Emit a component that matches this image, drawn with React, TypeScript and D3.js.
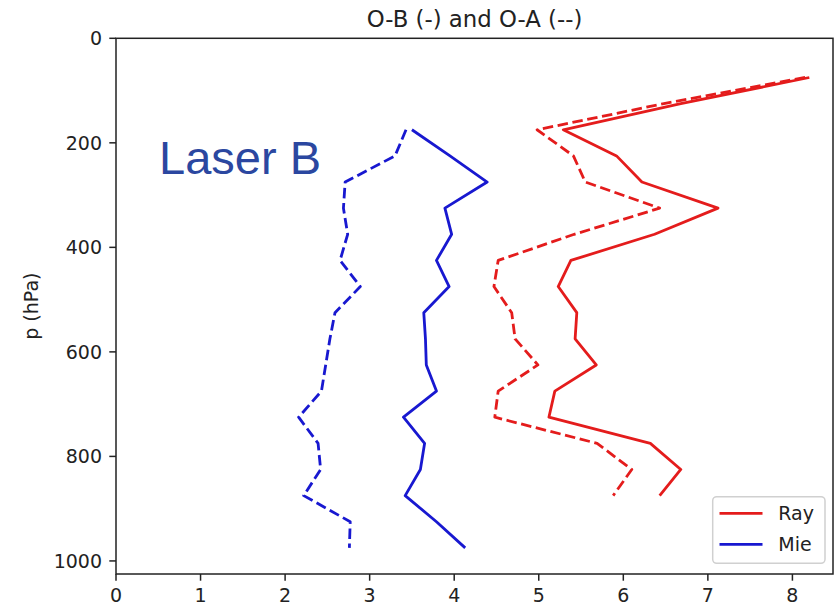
import React, { useEffect, useRef } from "react";
import * as d3 from "d3";

const mieLevels = [175, 225, 275, 325, 375, 425, 475, 525, 575, 625, 675, 725, 775, 825, 875, 925, 975];
const mieOB = [3.5, 3.95, 4.39, 3.89, 3.97, 3.79, 3.94, 3.64, 3.66, 3.67, 3.79, 3.4, 3.65, 3.6, 3.42, 3.79, 4.13];
const mieOA = [3.43, 3.3, 2.71, 2.69, 2.74, 2.65, 2.89, 2.59, 2.53, 2.48, 2.43, 2.16, 2.39, 2.42, 2.22, 2.77, 2.76];

const rayLevels = [75, 125, 175, 225, 275, 325, 375, 425, 475, 525, 575, 625, 675, 725, 775, 825, 875];
const rayOB = [8.2, 6.68, 5.29, 5.92, 6.22, 7.12, 6.37, 5.38, 5.23, 5.45, 5.43, 5.68, 5.19, 5.12, 6.32, 6.68, 6.43];
const rayOA = [8.15, 6.48, 4.98, 5.41, 5.55, 6.43, 5.42, 4.52, 4.47, 4.68, 4.72, 4.99, 4.52, 4.48, 5.69, 6.1, 5.88];

const xTicks = [0, 1, 2, 3, 4, 5, 6, 7, 8];
const yTicks = [0, 200, 400, 600, 800, 1000];

const titleText = "O-B (-) and O-A (--)";
const yLabel = "p (hPa)";
const annotation = "Laser B";
const legendItems = [
  { label: "Ray", color: "#e41c1c" },
  { label: "Mie", color: "#1818d0" },
];

const W = 834;
const H = 606;
const L = 116, R = 833, T = 38.3, B = 574;
const FONT = "DejaVu Sans, sans-serif";

export default function App() {
  const ref = useRef<SVGSVGElement>(null);

  useEffect(() => {
    document.body.style.margin = "0";
    const svg = d3.select(ref.current);
    svg.selectAll("*").remove();

    const x = d3.scaleLinear().domain([0, 8.48]).range([L, R]);
    const y = d3.scaleLinear().domain([0, 1025]).range([T, B]);

    svg.append("rect").attr("width", W).attr("height", H).attr("fill", "white");

    const series = [
      { lv: rayLevels, v: rayOB, color: legendItems[0].color, dash: null },
      { lv: rayLevels, v: rayOA, color: legendItems[0].color, dash: "10.5,4.6" },
      { lv: mieLevels, v: mieOB, color: legendItems[1].color, dash: null },
      { lv: mieLevels, v: mieOA, color: legendItems[1].color, dash: "10.5,4.6" },
    ];

    const line = d3
      .line<[number, number]>()
      .x((d) => x(d[0]))
      .y((d) => y(d[1]));

    series.forEach((s) => {
      const pts: [number, number][] = s.v.map((val, i) => [val, s.lv[i]]);
      const p = svg
        .append("path")
        .attr("d", line(pts))
        .attr("fill", "none")
        .attr("stroke", s.color)
        .attr("stroke-width", 2.8)
        .attr("stroke-linejoin", "round");
      if (s.dash) p.attr("stroke-dasharray", s.dash);
    });

    // spines
    const g = svg.append("g");
    g.append("rect")
      .attr("x", L)
      .attr("y", T)
      .attr("width", R - L)
      .attr("height", B - T)
      .attr("fill", "none")
      .attr("stroke", "#222")
      .attr("stroke-width", 1.5);

    // x ticks
    xTicks.forEach((t) => {
      g.append("line")
        .attr("x1", x(t)).attr("x2", x(t))
        .attr("y1", B).attr("y2", B + 6.7)
        .attr("stroke", "#222").attr("stroke-width", 1.5);
      g.append("text")
        .attr("x", x(t)).attr("y", B + 27.5)
        .attr("text-anchor", "middle")
        .attr("font-family", FONT).attr("font-size", 19)
        .attr("fill", "#222")
        .text(String(t));
    });

    // y ticks
    yTicks.forEach((t) => {
      g.append("line")
        .attr("x1", L - 6.7).attr("x2", L)
        .attr("y1", y(t)).attr("y2", y(t))
        .attr("stroke", "#222").attr("stroke-width", 1.5);
      g.append("text")
        .attr("x", L - 14).attr("y", y(t))
        .attr("dy", "0.36em")
        .attr("text-anchor", "end")
        .attr("font-family", FONT).attr("font-size", 19)
        .attr("fill", "#222")
        .text(String(t));
    });

    // y label
    g.append("text")
      .attr("transform", `translate(38,${(T + B) / 2}) rotate(-90)`)
      .attr("text-anchor", "middle")
      .attr("font-family", FONT).attr("font-size", 19)
      .attr("fill", "#222")
      .text(yLabel);

    // title
    g.append("text")
      .attr("x", (L + R) / 2).attr("y", 26.5)
      .attr("text-anchor", "middle")
      .attr("font-family", FONT).attr("font-size", 22.8)
      .attr("fill", "#222")
      .text(titleText);

    // annotation
    g.append("text")
      .attr("x", 159).attr("y", 174)
      .attr("font-family", "Liberation Sans, Arial, sans-serif")
      .attr("font-size", 47)
      .attr("fill", "#2b47a0")
      .text(annotation);

    // legend
    const lg = svg.append("g");
    lg.append("rect")
      .attr("x", 712.7).attr("y", 496.7)
      .attr("width", 112.3).attr("height", 66.6)
      .attr("rx", 4).attr("ry", 4)
      .attr("fill", "white").attr("fill-opacity", 0.8)
      .attr("stroke", "#d0d0d0").attr("stroke-width", 1.5);
    legendItems.forEach((it, i) => {
      const ly = 513.3 + i * 31;
      lg.append("line")
        .attr("x1", 719.5).attr("x2", 762.5)
        .attr("y1", ly).attr("y2", ly)
        .attr("stroke", it.color).attr("stroke-width", 2.8);
      lg.append("text")
        .attr("x", 778.3).attr("y", ly)
        .attr("dy", "0.36em")
        .attr("font-family", FONT).attr("font-size", 19)
        .attr("fill", "#222")
        .text(it.label);
    });
  }, []);

  return (
    <svg
      ref={ref}
      width={W}
      height={H}
      style={{ position: "absolute", left: 0, top: 0, display: "block" }}
    />
  );
}
